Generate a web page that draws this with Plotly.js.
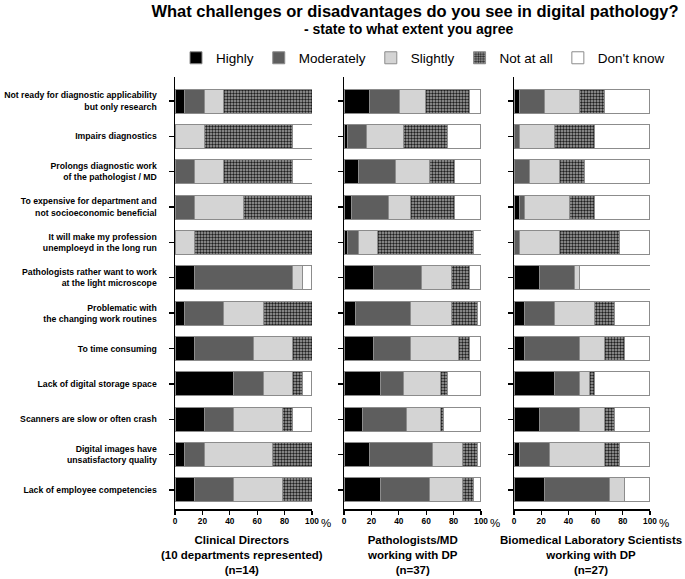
<!DOCTYPE html>
<html>
<head>
<meta charset="utf-8">
<script src="https://cdn.plot.ly/plotly-3.0.1.min.js"></script>
<style>html,body{margin:0;padding:0;background:#fff;}#chart{width:685px;height:579px;}</style>
</head>
<body>
<div id="chart"></div>
<script>
const categories = [
  "Not ready for diagnostic applicability<br>but only research",
  "Impairs diagnostics",
  "Prolongs diagnostic work<br>of the pathologist / MD",
  "To expensive for department and<br>not socioeconomic beneficial",
  "It will make my profession<br>unemploeyd in the long run",
  "Pathologists rather want to work<br>at the light microscope",
  "Problematic with<br>the changing work routines",
  "To time consuming",
  "Lack of digital storage space",
  "Scanners are slow or often crash",
  "Digital images have<br>unsatisfactory quality",
  "Lack of employee competencies"
];
const levels = ["Highly", "Moderately", "Slightly", "Not at all", "Don't know"];
const groups = ["Clinical Directors<br>(10 departments represented)<br>(n=14)",
                "Pathologists/MD<br>working with DP<br>(n=37)",
                "Biomedical Laboratory Scientists<br>working with DP<br>(n=27)"];
const xTicks = [0, 20, 40, 60, 80, 100];

// Clinical Directors (%)
const cdHighly     = [7.1, 0, 0, 0, 0, 14.3, 7.1, 14.3, 42.9, 21.4, 7.1, 14.3];
const cdModerately = [14.3, 0, 14.3, 14.3, 0, 71.4, 28.6, 42.9, 21.4, 21.4, 14.3, 28.6];
const cdSlightly   = [14.3, 21.4, 21.4, 35.7, 14.3, 7.1, 28.6, 28.6, 21.4, 35.7, 50, 35.7];
const cdNotAtAll   = [64.3, 64.3, 50, 50, 85.7, 0, 35.7, 14.3, 7.1, 7.1, 28.6, 21.4];
const cdDontKnow   = [0, 14.3, 14.3, 0, 0, 7.1, 0, 0, 7.1, 14.3, 0, 0];

// Pathologists/MD (%)
const pmHighly     = [18.9, 2.7, 10.8, 5.4, 2.7, 21.6, 8.1, 21.6, 27, 13.5, 18.9, 27];
const pmModerately = [21.6, 13.5, 27, 27, 8.1, 35.1, 40.5, 27, 16.2, 32.4, 45.9, 35.1];
const pmSlightly   = [18.9, 27, 24.3, 16.2, 13.5, 21.6, 29.7, 35.1, 27, 24.3, 21.6, 24.3];
const pmNotAtAll   = [32.4, 32.4, 18.9, 32.4, 70.3, 13.5, 18.9, 8.1, 5.4, 2.7, 10.8, 8.1];
const pmDontKnow   = [8.1, 24.3, 18.9, 18.9, 5.4, 8.1, 2.7, 8.1, 24.3, 27, 2.7, 5.4];

// Biomedical Laboratory Scientists (%)
const blHighly     = [3.7, 0, 0, 3.7, 0, 18.5, 7.4, 7.4, 29.6, 18.5, 3.7, 22.2];
const blModerately = [18.5, 3.7, 11.1, 3.7, 3.7, 25.9, 22.2, 40.7, 18.5, 29.6, 22.2, 48.1];
const blSlightly   = [25.9, 25.9, 22.2, 33.3, 29.6, 3.7, 29.6, 18.5, 7.4, 18.5, 40.7, 11.1];
const blNotAtAll   = [18.5, 29.6, 18.5, 18.5, 44.4, 0, 14.8, 14.8, 3.7, 7.4, 11.1, 0];
const blDontKnow   = [33.3, 40.7, 48.1, 40.7, 22.2, 51.9, 25.9, 18.5, 40.7, 25.9, 22.2, 18.5];

const panels = [
  [cdHighly, cdModerately, cdSlightly, cdNotAtAll, cdDontKnow],
  [pmHighly, pmModerately, pmSlightly, pmNotAtAll, pmDontKnow],
  [blHighly, blModerately, blSlightly, blNotAtAll, blDontKnow]
];

const fills = ["#000000", "#5e5e5e", "#d4d4d4", "#808080", "#ffffff"];
const FONT = "Liberation Sans, Arial, sans-serif";

const traces = [];
panels.forEach((series, p) => {
  const ax = p === 0 ? "" : String(p + 1);
  series.forEach((vals, i) => {
    const marker = {color: fills[i], line: {color: "#8c8c8c", width: 1}};
    if (i === 3) {
      marker.pattern = {shape: ".", size: 3, solidity: 0.5, fgcolor: "#1e1e1e", bgcolor: "#a6a6a6", fillmode: "replace"};
    }
    traces.push({
      type: "bar", orientation: "h",
      x: vals, y: categories,
      name: levels[i], legendgroup: levels[i], showlegend: p === 0,
      xaxis: "x" + ax, yaxis: "y" + ax,
      width: 0.68, marker: marker, hoverinfo: "x+name"
    });
  });
});

const domains = [[175/685, 312/685], [344/685, 481/685], [514/685, 650/685]];
const layout = {
  width: 685, height: 579,
  margin: {l: 0, r: 0, t: 77, b: 70},
  paper_bgcolor: "#fff", plot_bgcolor: "#fff",
  barmode: "stack",
  font: {family: FONT, color: "#000"},
  title: {text: "What challenges or disadvantages do you see in digital pathology?",
          font: {family: FONT, size: 16.5, weight: "bold", color: "#000"},
          x: 415/685, xanchor: "center", xref: "paper", y: 1 - 11/579, yanchor: "middle", pad: {t: 0, b: 0}},
  showlegend: true,
  legend: {orientation: "h", x: 423/685, xanchor: "center", y: 1.044, yanchor: "middle",
           font: {family: FONT, size: 13.5, color: "#000"}, traceorder: "normal",
           itemwidth: 30, tracegroupgap: 0},
  annotations: [
    {text: "<b>- state to what extent you agree</b>", xref: "paper", yref: "paper",
     x: 408/685, y: 1 + (77-29)/432, xanchor: "center", yanchor: "middle", showarrow: false,
     font: {family: FONT, size: 14, color: "#000"}}
  ],
  shapes: []
};

domains.forEach((d, p) => {
  const ax = p === 0 ? "" : String(p + 1);
  layout["xaxis" + ax] = {
    domain: d, range: [0, 100], anchor: "y" + ax,
    tickvals: xTicks, ticktext: xTicks.map(String),
    ticks: "outside", ticklen: 4, tickwidth: 1.3, tickcolor: "#000",
    showline: true, linecolor: "#000", linewidth: 1.5,
    showgrid: false, zeroline: false,
    tickfont: {family: FONT, size: 8.3, weight: "bold", color: "#000"}
  };
  layout["yaxis" + ax] = {
    domain: [0, 1], anchor: "x" + ax,
    type: "category", categoryarray: categories,
    range: [11.54, -0.68],
    ticks: "outside", ticklen: 5, tickwidth: 1.3, tickcolor: "#000",
    showline: true, linecolor: "#000", linewidth: 1.5,
    showgrid: false, zeroline: false,
    showticklabels: p === 0,
    ticklabelstandoff: 10,
    tickfont: {family: FONT, size: 8.7, weight: "bold", color: "#000"}
  };
  layout.annotations.push({
    text: "%", xref: "paper", yref: "paper",
    x: (d[1] * 685 + 14) / 685, y: -(523-509)/432, xanchor: "center", yanchor: "middle",
    showarrow: false, font: {family: FONT, size: 11.5, color: "#000"}
  });
});

const groupX = [242, 413, 591];
groups.forEach((g, p) => {
  layout.annotations.push({
    text: "<b>" + g + "</b>", xref: "paper", yref: "paper",
    x: groupX[p] / 685, y: -(532-509)/432, xanchor: "center", yanchor: "top",
    align: "center", showarrow: false,
    font: {family: FONT, size: 11.5, color: "#000"}
  });
});

Plotly.newPlot("chart", traces, layout, {displayModeBar: false, staticPlot: true});
</script>
</body>
</html>
